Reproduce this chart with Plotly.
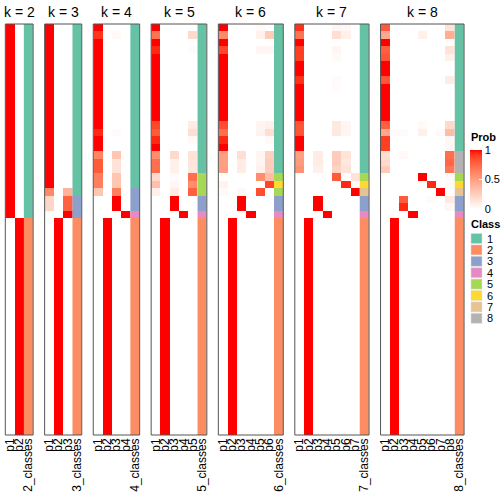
import plotly.graph_objects as go

# ---------------- data ----------------
K_LIST = [2, 3, 4, 5, 6, 7, 8]
N_BOTTOM = 29  # bottom samples: all class 2 with p2 = 1

PROB_K2 = [[1, 0]] * 26
CLASS_K2 = [1] * 26

PROB_K3 = [[1, 0, 0]] * 22 + [
    [0.6, 0, 0.4], [0.22, 0, 0.78], [0.22, 0, 0.78], [0, 0, 1]]
CLASS_K3 = [1] * 23 + [3] * 3

PROB_K4 = ([[1, 0, 0, 0], [0.92, 0, 0.03, 0]] + [[1, 0, 0, 0]] * 12 +
           [[0.95, 0, 0.02, 0], [1, 0, 0, 0], [1, 0, 0, 0],
            [0.62, 0, 0.3, 0], [0.8, 0, 0.15, 0], [0.8, 0, 0.15, 0],
            [0.65, 0, 0.3, 0], [0.65, 0, 0.3, 0], [0.3, 0, 0.65, 0],
            [0, 0, 1, 0], [0, 0, 1, 0], [0, 0, 0, 1]])
CLASS_K4 = [1] * 22 + [3] * 3 + [4]

PROB_K5 = ([[1, 0, 0, 0, 0], [0.7, 0, 0, 0, 0.2], [1, 0, 0, 0, 0],
            [0.95, 0, 0, 0, 0.02]] + [[1, 0, 0, 0, 0]] * 9 +
           [[0.87, 0, 0, 0, 0.1], [0.8, 0, 0, 0, 0.17], [0.95, 0, 0, 0, 0.03],
            [1, 0, 0, 0, 0], [0.58, 0, 0.2, 0, 0.15], [0.72, 0, 0.08, 0, 0.13],
            [0.72, 0, 0.08, 0, 0.13], [0.2, 0, 0.02, 0, 0.72],
            [0.33, 0, 0.04, 0, 0.58], [0.08, 0, 0.1, 0, 0.78],
            [0, 0, 1, 0, 0], [0, 0, 1, 0, 0], [0, 0, 0, 1, 0]])
CLASS_K5 = [1] * 20 + [5] * 3 + [3] * 2 + [4]

PROB_K6 = ([[1, 0, 0, 0, 0.03, 0], [0.6, 0, 0, 0, 0.07, 0.27],
            [1, 0, 0, 0, 0, 0], [0.87, 0, 0, 0, 0.05, 0.05]] +
           [[1, 0, 0, 0, 0, 0]] * 9 +
           [[0.85, 0, 0, 0, 0.05, 0.08], [0.72, 0, 0, 0, 0.06, 0.18],
            [0.95, 0, 0, 0, 0, 0.03], [1, 0, 0, 0, 0, 0],
            [0.5, 0, 0.17, 0, 0.05, 0.25], [0.5, 0, 0.1, 0, 0.05, 0.27],
            [0.5, 0, 0.1, 0, 0.07, 0.27], [0, 0, 0, 0, 0.58, 0.35],
            [0.06, 0, 0, 0, 0, 0.88], [0.03, 0, 0.04, 0, 0.85, 0],
            [0, 0, 1, 0, 0, 0], [0, 0, 1, 0, 0, 0], [0, 0, 0, 1, 0, 0]])
CLASS_K6 = [1] * 20 + [5, 6, 5, 3, 3, 4]

PROB_K7 = ([[0.93, 0, 0, 0, 0.05, 0.04, 0], [0.7, 0, 0, 0, 0.17, 0.08, 0],
            [1, 0, 0, 0, 0, 0, 0], [0.9, 0, 0, 0, 0.05, 0, 0],
            [0.9, 0, 0, 0, 0.03, 0, 0], [1, 0, 0, 0, 0, 0, 0],
            [1, 0, 0, 0, 0, 0, 0], [0.93, 0, 0, 0, 0.03, 0, 0],
            [1, 0, 0, 0, 0.02, 0, 0]] + [[1, 0, 0, 0, 0, 0, 0]] * 4 +
           [[0.82, 0, 0, 0, 0.12, 0.05, 0], [0.82, 0, 0, 0, 0.12, 0.05, 0],
            [1, 0, 0, 0, 0, 0, 0], [1, 0, 0, 0, 0, 0, 0],
            [0.5, 0, 0.1, 0, 0.27, 0.15, 0], [0.52, 0, 0.1, 0, 0.27, 0.12, 0],
            [0.55, 0, 0.08, 0, 0.23, 0.15, 0], [0, 0, 0, 0, 0.8, 0, 0.15],
            [0, 0, 0, 0, 0, 0.95, 0.03], [0, 0, 0, 0, 0, 0, 1],
            [0, 0, 1, 0, 0, 0, 0], [0, 0, 1, 0, 0, 0, 0], [0, 0, 0, 1, 0, 0, 0]])
CLASS_K7 = [1] * 20 + [5, 6, 7, 3, 3, 4]

PROB_K8 = ([[0.8, 0, 0, 0, 0, 0, 0, 0.15], [0.45, 0, 0, 0, 0.08, 0, 0, 0.42],
            [1, 0, 0, 0, 0, 0, 0, 0], [0.78, 0, 0, 0, 0, 0, 0, 0.15],
            [0.82, 0, 0, 0, 0, 0, 0, 0.08], [1, 0, 0, 0, 0, 0, 0, 0],
            [1, 0, 0, 0, 0, 0, 0, 0], [0.82, 0, 0, 0, 0, 0, 0, 0.1]] +
           [[1, 0, 0, 0, 0, 0, 0, 0]] * 5 +
           [[0.78, 0, 0, 0, 0.03, 0, 0, 0.2],
            [0.45, 0.02, 0.02, 0, 0.08, 0, 0.03, 0.35],
            [0.9, 0, 0, 0, 0, 0, 0, 0.04], [0.9, 0, 0, 0, 0, 0, 0, 0.04],
            [0.18, 0, 0.03, 0, 0, 0, 0, 0.72], [0.2, 0, 0, 0, 0, 0, 0, 0.75],
            [0.28, 0, 0, 0, 0, 0, 0, 0.68], [0, 0, 0, 0, 1, 0, 0, 0.03],
            [0, 0, 0, 0, 0, 0.95, 0, 0.02], [0, 0, 0, 0, 0, 0, 1, 0],
            [0, 0, 0.8, 0, 0, 0.03, 0, 0.12], [0, 0, 0.95, 0, 0, 0, 0, 0.04],
            [0, 0, 0, 1, 0, 0, 0, 0]])
CLASS_K8 = [1] * 17 + [8, 8, 8, 5, 6, 7, 3, 3, 4]

PROBS = {2: PROB_K2, 3: PROB_K3, 4: PROB_K4, 5: PROB_K5, 6: PROB_K6, 7: PROB_K7, 8: PROB_K8}
CLASSES = {2: CLASS_K2, 3: CLASS_K3, 4: CLASS_K4, 5: CLASS_K5, 6: CLASS_K6, 7: CLASS_K7, 8: CLASS_K8}

CLASS_LABELS = ["1", "2", "3", "4", "5", "6", "7", "8"]
CLASS_COLORS = ["#66C2A5", "#FC8D62", "#8DA0CB", "#E78AC3",
                "#A6D854", "#FFD92F", "#E5C494", "#B3B3B3"]
PROB_TICKS = [0, 0.5, 1]

# ---------------- colour helpers (white -> red in LAB) ----------------
def _lin(c):
    c /= 255.0
    return c / 12.92 if c <= 0.04045 else ((c + 0.055) / 1.055) ** 2.4

def _srgb(c):
    c = max(0.0, min(1.0, c))
    v = 12.92 * c if c <= 0.0031308 else 1.055 * c ** (1 / 2.4) - 0.055
    return int(round(v * 255))

def rgb_to_lab(rgb):
    r, g, b = [_lin(v) for v in rgb]
    X = 0.4124 * r + 0.3576 * g + 0.1805 * b
    Y = 0.2126 * r + 0.7152 * g + 0.0722 * b
    Z = 0.0193 * r + 0.1192 * g + 0.9505 * b
    def f(t):
        return t ** (1 / 3) if t > 0.008856 else 7.787 * t + 16 / 116
    fx, fy, fz = f(X / 0.95047), f(Y), f(Z / 1.08883)
    return 116 * fy - 16, 500 * (fx - fy), 200 * (fy - fz)

def lab_to_rgb(L, a, b):
    fy = (L + 16) / 116
    fx = fy + a / 500
    fz = fy - b / 200
    def finv(t):
        return t ** 3 if t ** 3 > 0.008856 else (t - 16 / 116) / 7.787
    X, Y, Z = 0.95047 * finv(fx), finv(fy), 1.08883 * finv(fz)
    r = 3.2406 * X - 1.5372 * Y - 0.4986 * Z
    g = -0.9689 * X + 1.8758 * Y + 0.0415 * Z
    bb = 0.0557 * X - 0.2040 * Y + 1.0570 * Z
    return "rgb(%d,%d,%d)" % (_srgb(r), _srgb(g), _srgb(bb))

lw, lr = rgb_to_lab((255, 255, 255)), rgb_to_lab((255, 0, 0))
PROB_SCALE = []
for i in range(21):
    t = i / 20
    PROB_SCALE.append([t, lab_to_rgb(*[lw[j] + (lr[j] - lw[j]) * t for j in range(3)])])

CLASS_SCALE = []
n = len(CLASS_COLORS)
for i, c in enumerate(CLASS_COLORS):
    CLASS_SCALE.append([i / n, c])
    CLASS_SCALE.append([(i + 1) / n, c])

# ---------------- layout geometry (pixels) ----------------
W = H = 504
LEFT_PX, COL_W, GAP = 5.3, 9.28, 11.5
TOP_PX, BOT_PX = 24, 435
FONT = "Liberation Sans, Arial, sans-serif"

fig = go.Figure()
layout_axes = {}
shapes = []
annotations = []
x_cursor = LEFT_PX
for i, k in enumerate(K_LIST):
    ncol = k + 1
    x0 = x_cursor
    x1 = x0 + ncol * COL_W
    x_cursor = x1 + GAP
    axname = "x" if i == 0 else "x%d" % (i + 1)
    layname = "xaxis" if i == 0 else "xaxis%d" % (i + 1)
    bottom_row = [0, 1] + [0] * (k - 2)
    prob = PROBS[k] + [bottom_row] * N_BOTTOM
    cls = CLASSES[k] + [2] * N_BOTTOM
    rows = list(range(1, len(prob) + 1))
    labels = ["p%d" % j for j in range(1, k + 1)] + ["%d_classes" % k]
    pos = list(range(1, k + 2))
    fig.add_trace(go.Heatmap(z=prob, x=pos[:k], y=rows, coloraxis="coloraxis",
                             xaxis=axname, yaxis="y", hoverinfo="skip"))
    fig.add_trace(go.Heatmap(z=[[c] for c in cls], x=[pos[k]], y=rows,
                             coloraxis="coloraxis2", xaxis=axname, yaxis="y",
                             hoverinfo="skip"))
    layout_axes[layname] = dict(
        domain=[x0 / W, x1 / W], anchor="y", type="linear",
        range=[0.5, k + 1.5],
        tickmode="array", tickvals=pos, ticktext=labels,
        tickangle=-90, ticks="", tickfont=dict(size=12, color="black", family=FONT),
        showgrid=False, zeroline=False, showline=False, automargin=False,
        fixedrange=True)
    shapes.append(dict(type="rect", xref="%s domain" % axname, yref="y domain",
                       x0=0, x1=1, y0=0, y1=1, line=dict(color="#555555", width=1),
                       fillcolor="rgba(0,0,0,0)", layer="above"))
    annotations.append(dict(text="k = %d" % k, x=(x0 + x1) / 2 / W, y=1 - 12 / H,
                            xref="paper", yref="paper", showarrow=False,
                            xanchor="center", yanchor="middle",
                            font=dict(size=14, color="black", family=FONT)))

# legend titles
annotations.append(dict(text="<b>Prob</b>", x=469 / W, y=1 - 137 / H, xref="paper",
                        yref="paper", showarrow=False, xanchor="left", yanchor="middle",
                        font=dict(size=11, color="black", family=FONT)))
annotations.append(dict(text="<b>Class</b>", x=469 / W, y=1 - 224 / H, xref="paper",
                        yref="paper", showarrow=False, xanchor="left", yanchor="middle",
                        font=dict(size=11, color="black", family=FONT)))
# class legend
for i, (lab, col) in enumerate(zip(CLASS_LABELS, CLASS_COLORS)):
    yc = 238.5 + i * 11.4
    shapes.append(dict(type="rect", xref="paper", yref="paper",
                       x0=471 / W, x1=482 / W, y0=1 - (yc + 5) / H, y1=1 - (yc - 5) / H,
                       fillcolor=col, line=dict(color="#DDDDDD", width=0.5)))
    annotations.append(dict(text=lab, x=485 / W, y=1 - yc / H, xref="paper",
                            yref="paper", showarrow=False, xanchor="left",
                            yanchor="middle",
                            font=dict(size=11, color="black", family=FONT)))

fig.update_layout(
    width=W, height=H, autosize=False,
    margin=dict(l=0, r=0, t=0, b=0, autoexpand=False),
    paper_bgcolor="white", plot_bgcolor="white",
    font=dict(family=FONT, color="black"),
    showlegend=False,
    yaxis=dict(domain=[1 - BOT_PX / H, 1 - TOP_PX / H], anchor="x",
               range=[len(PROB_K2) + N_BOTTOM + 0.5, 0.5], showticklabels=False,
               ticks="", showgrid=False, zeroline=False, showline=False,
               fixedrange=True),
    coloraxis=dict(
        colorscale=PROB_SCALE, cmin=0, cmax=1,
        colorbar=dict(
            x=470 / W, xanchor="left", y=1 - 150 / H, yanchor="top",
            lenmode="pixels", len=59, thickness=12, thicknessmode="pixels",
            outlinewidth=0, xpad=0, ypad=0,
            tickvals=PROB_TICKS, ticktext=[str(v) for v in PROB_TICKS],
            ticks="inside", tickcolor="white", ticklen=3,
            tickfont=dict(size=11, color="black", family=FONT))),
    coloraxis2=dict(colorscale=CLASS_SCALE, cmin=0.5, cmax=len(CLASS_COLORS) + 0.5,
                    showscale=False),
    shapes=shapes, annotations=annotations,
    **layout_axes)

fig.write_html("out.html", config={"displayModeBar": False},
               post_script="document.body.style.margin='0';document.body.style.overflow='hidden';")
